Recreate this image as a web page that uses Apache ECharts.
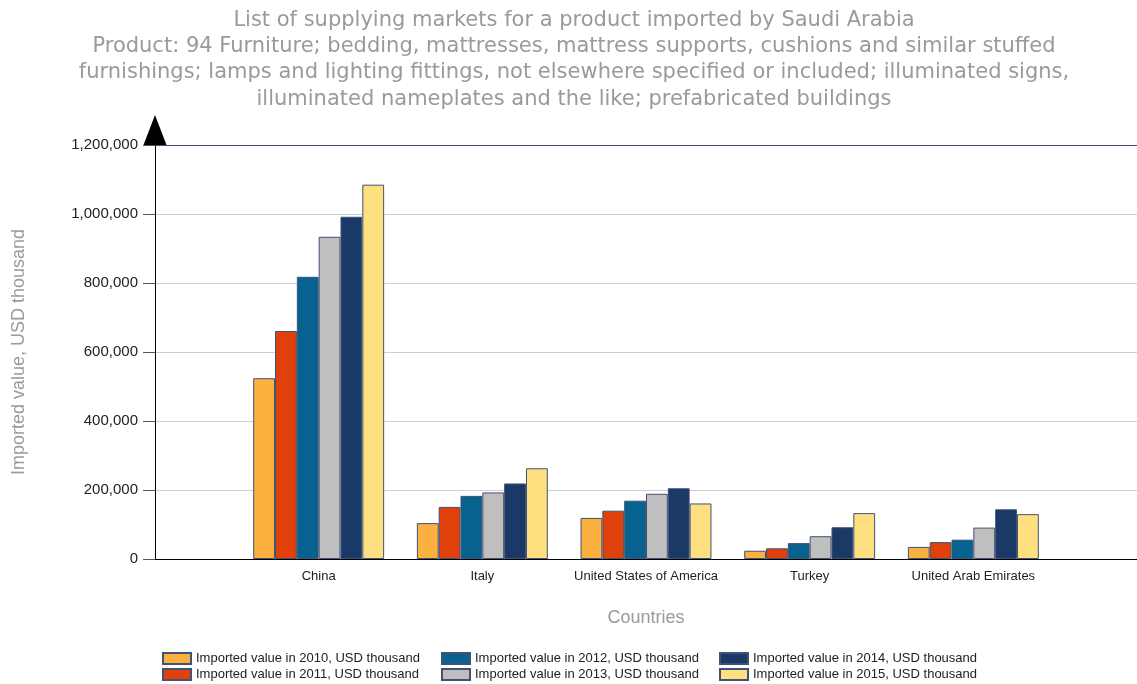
<!DOCTYPE html>
<html lang="en">
<head>
    <meta charset="UTF-8">
    <title>Saudi Arabia imports - product 94</title>
    <style>
        body {
            margin: 0;
            background: #fff;
        }

        #main {
            width: 1137px;
            height: 684px;
        }
    </style>
</head>
<body>
<div id="main"></div>
<script src="https://cdn.jsdelivr.net/npm/echarts@6/dist/echarts.min.js"></script>
<script>
    const countries = ['China', 'Italy', 'United States of America', 'Turkey', 'United Arab Emirates']
    const years = ['2010', '2011', '2012', '2013', '2014', '2015']
    const v2010 = [524000, 104000, 119000, 24000, 35000]
    const v2011 = [661000, 151000, 140000, 31000, 49000]
    const v2012 = [818000, 183000, 169000, 46000, 56000]
    const v2013 = [934000, 193000, 189000, 66000, 91000]
    const v2014 = [992000, 219000, 205000, 92000, 144000]
    const v2015 = [1085000, 263000, 161000, 133000, 130000]
    const yearValues = [v2010, v2011, v2012, v2013, v2014, v2015]
    const colors = ['#fbb040', '#e0400a', '#08628f', '#bfbfbf', '#1b3966', '#ffe080']

    const seriesName = y => 'Imported value in ' + y + ', USD thousand'
    // empty slot on each side, the countries sit on the inner ticks
    const axisCats = [''].concat(countries, [''])

    let chart = echarts.init(document.querySelector('#main'))
    let option = {
        animation: false,
        color: colors,
        textStyle: {fontFamily: 'Liberation Sans, Arial, sans-serif'},
        title: {
            text: 'List of supplying markets for a product imported by Saudi Arabia\n' +
                'Product: 94 Furniture; bedding, mattresses, mattress supports, cushions and similar stuffed\n' +
                'furnishings; lamps and lighting fittings, not elsewhere specified or included; illuminated signs,\n' +
                'illuminated nameplates and the like; prefabricated buildings',
            left: 574,
            textAlign: 'center',
            top: 7,
            padding: 0,
            textStyle: {
                fontFamily: 'DejaVu Sans',
                fontSize: 21,
                fontWeight: 'normal',
                color: '#9a9a9a',
                lineHeight: 26.4
            }
        },
        legend: [0, 1, 2].map(i => ({
            orient: 'vertical',
            left: [162, 441, 719][i],
            top: 652,
            padding: 0,
            icon: 'rect',
            itemWidth: 28,
            itemHeight: 11,
            itemGap: 3,
            textStyle: {fontSize: 13, lineHeight: 13, color: '#222'},
            data: [seriesName(years[i * 2]), seriesName(years[i * 2 + 1])]
        })),
        grid: {left: 155, right: 0, top: 145, bottom: 125, outerBoundsMode: 'none'},
        xAxis: [{
            type: 'category',
            data: axisCats,
            boundaryGap: false,
            name: 'Countries',
            nameLocation: 'middle',
            nameGap: 50,
            nameTextStyle: {fontSize: 18, color: '#9a9a9a'},
            axisLine: {lineStyle: {color: '#000', width: 1}},
            axisTick: {show: false},
            axisLabel: {interval: 0, fontSize: 13, color: '#222', margin: 11}
        }, {
            type: 'category',
            position: 'top',
            data: axisCats,
            boundaryGap: false,
            axisLine: {lineStyle: {color: '#3d5070', width: 1}},
            axisTick: {show: false},
            axisLabel: {show: false}
        }],
        yAxis: {
            type: 'value',
            min: 0,
            max: 1200000,
            interval: 200000,
            name: 'Imported value, USD thousand',
            nameLocation: 'middle',
            nameGap: 127,
            nameTextStyle: {fontSize: 18, color: '#9a9a9a'},
            axisLine: {
                show: true,
                lineStyle: {color: '#000', width: 1},
                symbol: ['none', 'triangle'],
                symbolSize: [23, 30],
                symbolOffset: [0, 15]
            },
            axisTick: {show: true, length: 12, lineStyle: {color: '#555'}},
            axisLabel: {
                fontSize: 15,
                color: '#222',
                margin: 17,
                formatter: v => v.toLocaleString('en-US')
            },
            splitLine: {lineStyle: {color: '#cfcfcf', width: 1}}
        },
        series: years.map((y, i) => ({
            name: seriesName(y),
            type: 'bar',
            barGap: 0,
            barCategoryGap: '20%',
            itemStyle: {borderColor: '#3e5375', borderWidth: 1},
            data: ['-'].concat(yearValues[i], ['-'])
        }))
    }
    chart.setOption(option)
</script>
</body>
</html>
